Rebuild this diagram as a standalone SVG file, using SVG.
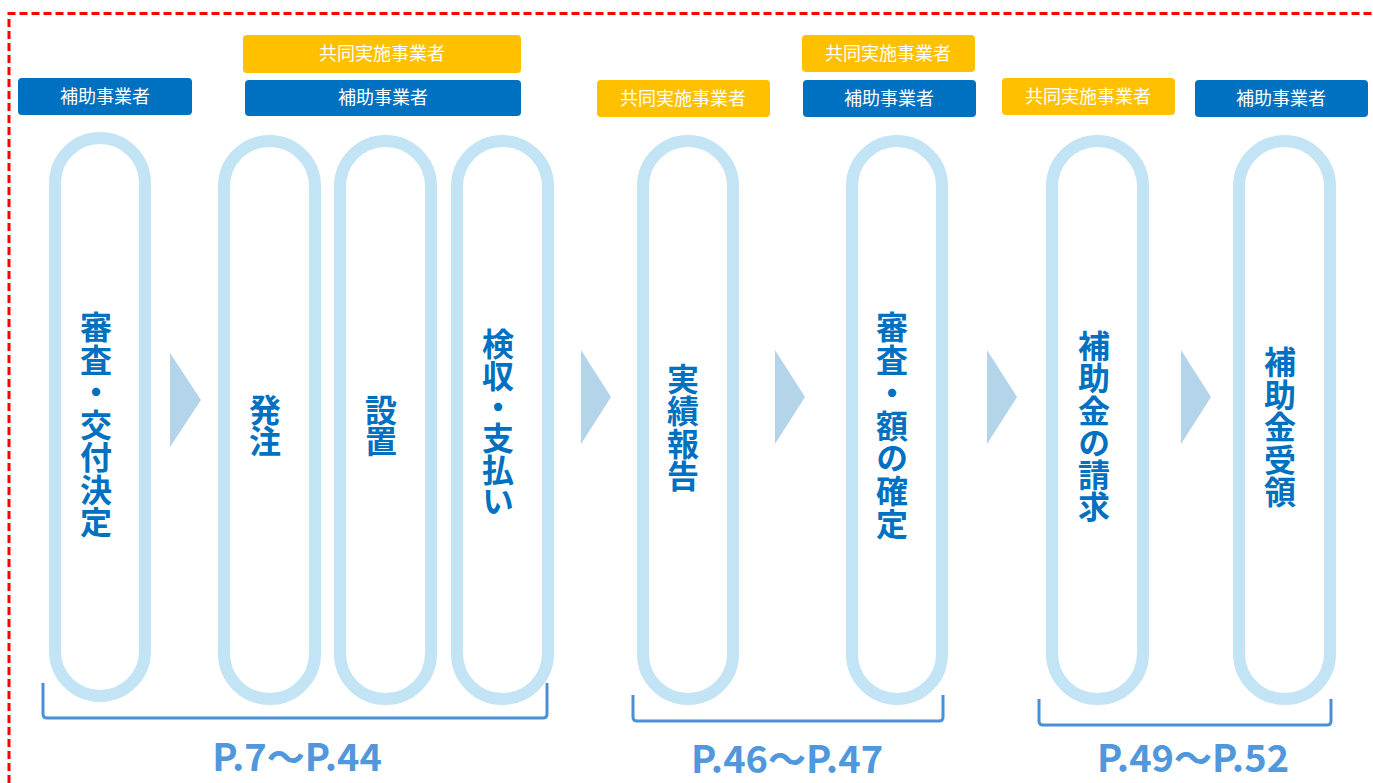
<svg xmlns="http://www.w3.org/2000/svg" width="1373" height="783" viewBox="0 0 1373 783">
<style>
.frame{fill:none;stroke:#ff0000;stroke-width:3;stroke-dasharray:8 4}
.blue{fill:#0070c0}
.yellow{fill:#ffc000}
.lbl{fill:#ffffff;font-family:"Noto Sans CJK JP","Noto Sans",sans-serif;font-size:18px;text-anchor:middle}
.pill{fill:none;stroke:#c3e4f5;stroke-width:12}
.vt{fill:#0070c0;font-family:"Noto Sans CJK JP","Noto Sans",sans-serif;font-size:32px;font-weight:bold;writing-mode:vertical-rl;text-orientation:upright;text-anchor:start}
.arr{fill:#b4d4ea}
.brk{fill:none;stroke:#4a90d9;stroke-width:3;stroke-linejoin:round}
.pg{fill:#5097dc;font-family:"Noto Sans CJK JP","Noto Sans",sans-serif;font-size:38px;font-weight:bold;text-anchor:middle}
</style>
<rect width="1373" height="783" fill="#ffffff"/>
<path class="frame" d="M9,783 L9,13.5 L1373,13.5"/>

<g id="labels">
  <g id="lblA"><rect class="blue" x="18" y="78" width="174" height="37" rx="4"/><text class="lbl" x="105" y="103">補助事業者</text></g>
  <g id="lblB"><rect class="yellow" x="243" y="35" width="278" height="38" rx="4"/><text class="lbl" x="382" y="60">共同実施事業者</text></g>
  <g id="lblC"><rect class="blue" x="245" y="80" width="276" height="36" rx="4"/><text class="lbl" x="383" y="104">補助事業者</text></g>
  <g id="lblD"><rect class="yellow" x="597" y="80" width="173" height="37" rx="4"/><text class="lbl" x="683" y="105">共同実施事業者</text></g>
  <g id="lblE"><rect class="yellow" x="802" y="35" width="173" height="37" rx="4"/><text class="lbl" x="888" y="60">共同実施事業者</text></g>
  <g id="lblF"><rect class="blue" x="803" y="80" width="173" height="37" rx="4"/><text class="lbl" x="889" y="105">補助事業者</text></g>
  <g id="lblG"><rect class="yellow" x="1002" y="78" width="173" height="37" rx="4"/><text class="lbl" x="1088" y="103">共同実施事業者</text></g>
  <g id="lblH"><rect class="blue" x="1195" y="80" width="173" height="37" rx="4"/><text class="lbl" x="1281" y="105">補助事業者</text></g>
</g>

<g id="step1"><rect class="pill" x="55" y="138" width="90" height="558" rx="45"/>
<text class="vt" x="96" y="311" letter-spacing="0.5">審査・交付決定</text></g>
<g id="step2"><rect class="pill" x="224" y="141" width="91" height="558" rx="45.5"/>
<text class="vt" x="265" y="394" letter-spacing="-1">発注</text></g>
<g id="step3"><rect class="pill" x="340" y="141" width="91" height="558" rx="45.5"/>
<text class="vt" x="381" y="394" letter-spacing="-1">設置</text></g>
<g id="step4"><rect class="pill" x="457" y="141" width="91" height="558" rx="45.5"/>
<text class="vt" x="498" y="328" letter-spacing="-0.6">検収・支払い</text></g>
<g id="step5"><rect class="pill" x="643" y="141" width="90" height="558" rx="45"/>
<text class="vt" x="683" y="363" letter-spacing="0.3">実績報告</text></g>
<g id="step6"><rect class="pill" x="852" y="141" width="90" height="558" rx="45"/>
<text class="vt" x="892" y="311" letter-spacing="0.8">審査・額の確定</text></g>
<g id="step7"><rect class="pill" x="1052" y="141" width="91" height="558" rx="45.5"/>
<text class="vt" x="1094" y="330" letter-spacing="0.2">補助金の請求</text></g>
<g id="step8"><rect class="pill" x="1239" y="141" width="91" height="558" rx="45.5"/>
<text class="vt" x="1280" y="346" letter-spacing="0.5">補助金受領</text></g>

<g id="connectors">
  <polygon class="arr" points="170,353 201,400 170,447"/>
  <polygon class="arr" points="581,350 611,397 581,444"/>
  <polygon class="arr" points="775,350 805,397 775,444"/>
  <polygon class="arr" points="987,350 1017,397 987,444"/>
  <polygon class="arr" points="1181,350 1211,397 1181,444"/>
</g>

<g id="range1"><path class="brk" d="M43,683 L43,714 Q43,718 47,718 L543,718 Q547,718 547,714 L547,683"/>
<text class="pg" x="297" y="771">P.7～P.44</text></g>
<g id="range2"><path class="brk" d="M633,695 L633,717 Q633,721 637,721 L939,721 Q943,721 943,717 L943,695"/>
<text class="pg" x="787" y="773">P.46～P.47</text></g>
<g id="range3"><path class="brk" d="M1039,699 L1039,721 Q1039,725 1043,725 L1327,725 Q1331,725 1331,721 L1331,699"/>
<text class="pg" x="1193" y="772">P.49～P.52</text></g>
</svg>
